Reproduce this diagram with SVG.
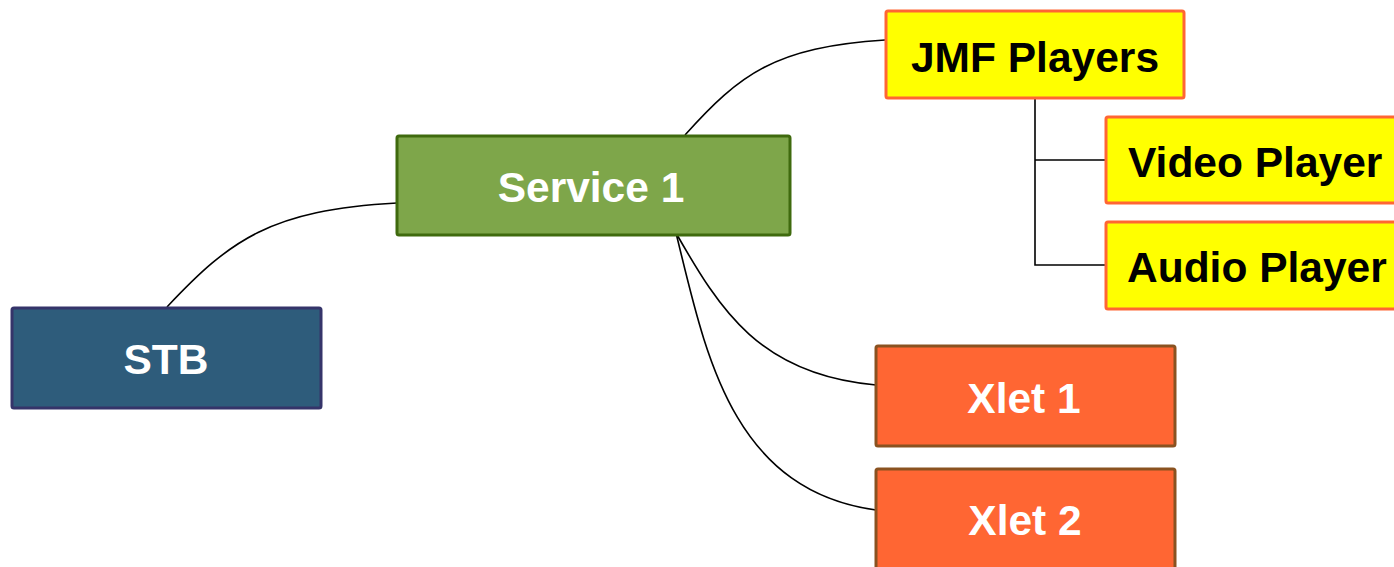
<svg xmlns="http://www.w3.org/2000/svg" width="1394" height="567" viewBox="0 0 1394 567">
  <style>
    .label { font-family: "Liberation Sans", Arial, sans-serif; font-weight: bold; font-size: 42.5px; }
    .light { fill: #ffffff; }
    .dark { fill: #000000; }
    .link { fill: none; stroke: #000000; stroke-width: 1.6; }
    .stb { fill: #2e5c7b; stroke: #35346a; stroke-width: 3; }
    .service { fill: #7ea64a; stroke: #3f6a0e; stroke-width: 3; }
    .player { fill: #ffff00; stroke: #ff6633; stroke-width: 3; }
    .xlet { fill: #ff6633; stroke: #8a5220; stroke-width: 3; }
  </style>

  <!-- connectors -->
  <g id="connectors">
    <path class="link" d="M167,307 C230,240 270,210 397,203"/>
    <path class="link" d="M685,135 C740,74 775,47 885,40"/>
    <path class="link" d="M676,233 C720,310 760,375 876,385"/>
    <path class="link" d="M676,233 C705,350 730,490 876,510"/>
    <path class="link" d="M1035,99 V265 H1105 M1035,160 H1105"/>
  </g>

  <g id="stb">
    <rect class="stb" x="12" y="308" width="309" height="100" rx="2"/>
    <text class="label light" x="166" y="374" text-anchor="middle">STB</text>
  </g>

  <g id="service1">
    <rect class="service" x="397" y="136" width="393" height="99" rx="2"/>
    <text class="label light" x="591" y="202" text-anchor="middle">Service 1</text>
  </g>

  <g id="jmf-players">
    <rect class="player" x="886" y="11" width="298" height="87" rx="2"/>
    <text class="label dark" x="1035" y="72" text-anchor="middle">JMF Players</text>
  </g>

  <g id="video-player">
    <rect class="player" x="1106" y="117" width="300" height="86" rx="2"/>
    <text class="label dark" x="1128" y="177">Video Player</text>
  </g>

  <g id="audio-player">
    <rect class="player" x="1106" y="222" width="300" height="87" rx="2"/>
    <text class="label dark" x="1127" y="282">Audio Player</text>
  </g>

  <g id="xlet1">
    <rect class="xlet" x="876" y="346" width="299" height="100" rx="2"/>
    <text class="label light" x="1024" y="413" text-anchor="middle">Xlet 1</text>
  </g>

  <g id="xlet2">
    <rect class="xlet" x="876" y="469" width="299" height="110" rx="2"/>
    <text class="label light" x="1025" y="535" text-anchor="middle">Xlet 2</text>
  </g>
</svg>
